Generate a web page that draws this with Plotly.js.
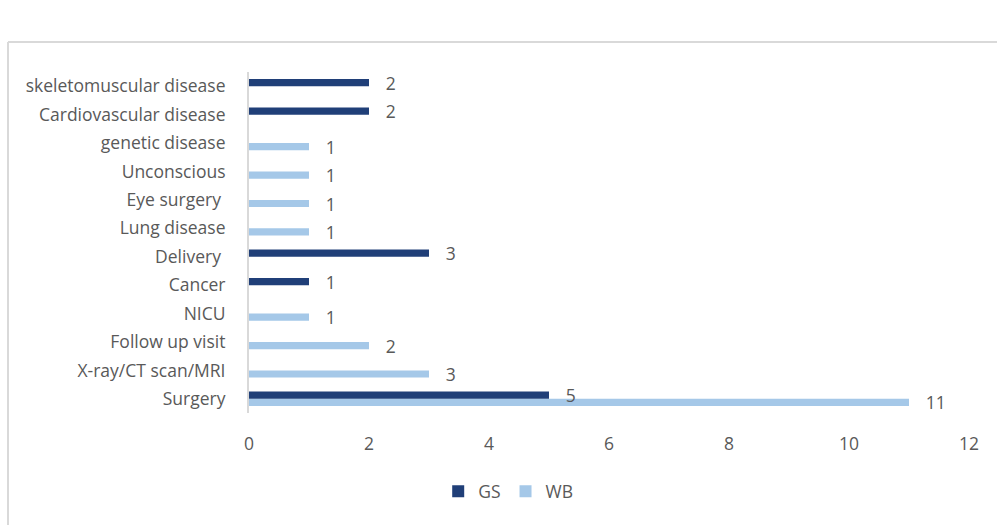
<!DOCTYPE html>
<html>
<head>
<meta charset="utf-8">
<script src="https://cdn.plot.ly/plotly-3.0.1.min.js"></script>
<style>
  html, body { margin: 0; padding: 0; background: #ffffff; }
  #chart { width: 997px; height: 525px; }
</style>
</head>
<body>
<div id="chart"></div>
<script>
// Categories, bottom to top
const categories = [
  "Surgery",
  "X-ray/CT scan/MRI",
  "Follow up visit",
  "NICU",
  "Cancer",
  "Delivery ",
  "Lung disease",
  "Eye surgery ",
  "Unconscious",
  "genetic disease",
  "Cardiovascular disease",
  "skeletomuscular disease"
];
const gsValues = [5, null, null, null, 1, 3, null, null, null, null, 2, 2];
const wbValues = [11, 3, 2, 1, null, null, 1, 1, 1, 1, null, null];
const xTicks = [0, 2, 4, 6, 8, 10, 12];

const textColor = "#595959";
const fontFamily = "'Open Sans', 'Noto Sans', sans-serif";
const fs = 17.5;
const pad = "\u00a0\u00a0\u00a0";

const traces = [
  {
    type: "bar",
    orientation: "h",
    name: "WB",
    y: categories,
    x: wbValues,
    marker: { color: "#A5C8E8" },
    text: wbValues.map(v => v === null ? "" : pad + v),
    textposition: "outside",
    constraintext: "none",
    cliponaxis: false,
    textfont: { color: textColor, size: fs, family: fontFamily },
    hoverinfo: "x+name"
  },
  {
    type: "bar",
    orientation: "h",
    name: "GS",
    y: categories,
    x: gsValues,
    marker: { color: "#203F78" },
    text: gsValues.map(v => v === null ? "" : pad + v),
    textposition: "outside",
    constraintext: "none",
    cliponaxis: false,
    textfont: { color: textColor, size: fs, family: fontFamily },
    hoverinfo: "x+name"
  }
];

const layout = {
  width: 997,
  height: 525,
  paper_bgcolor: "#ffffff",
  plot_bgcolor: "#ffffff",
  margin: { l: 249, r: 28, t: 72, b: 111.5, pad: 0 },
  barmode: "group",
  bargap: 0.49,
  bargroupgap: 0,
  font: { family: fontFamily, color: textColor, size: fs },
  showlegend: true,
  legend: {
    orientation: "h",
    traceorder: "reversed",
    xref: "paper",
    x: 0.36,
    xanchor: "center",
    y: -0.23,
    yanchor: "middle",
    font: { size: fs, color: textColor, family: fontFamily },
    itemwidth: 30
  },
  xaxis: {
    range: [0, 12],
    tickvals: xTicks,
    ticktext: xTicks.map(String),
    showgrid: false,
    zeroline: false,
    showline: false,
    ticks: "",
    ticklabelstandoff: 18,
    tickfont: { size: fs, color: textColor, family: fontFamily },
    fixedrange: true
  },
  yaxis: {
    type: "category",
    categoryorder: "array",
    categoryarray: categories,
    showgrid: false,
    zeroline: false,
    showline: true,
    linecolor: "#d9d9d9",
    linewidth: 2,
    ticks: "",
    ticklabelstandoff: 18,
    tickfont: { size: fs, color: textColor, family: fontFamily },
    fixedrange: true
  },
  shapes: [
    {
      type: "line", xref: "paper", yref: "paper",
      x0: -0.3347, x1: 1.04, y0: 1.0878, y1: 1.0878,
      line: { color: "#d9d9d9", width: 2 }
    },
    {
      type: "line", xref: "paper", yref: "paper",
      x0: -0.3347, x1: -0.3347, y0: 1.0878, y1: -0.34,
      line: { color: "#d9d9d9", width: 2 }
    }
  ]
};

Plotly.newPlot("chart", traces, layout, { displayModeBar: false, staticPlot: true });
</script>
</body>
</html>
